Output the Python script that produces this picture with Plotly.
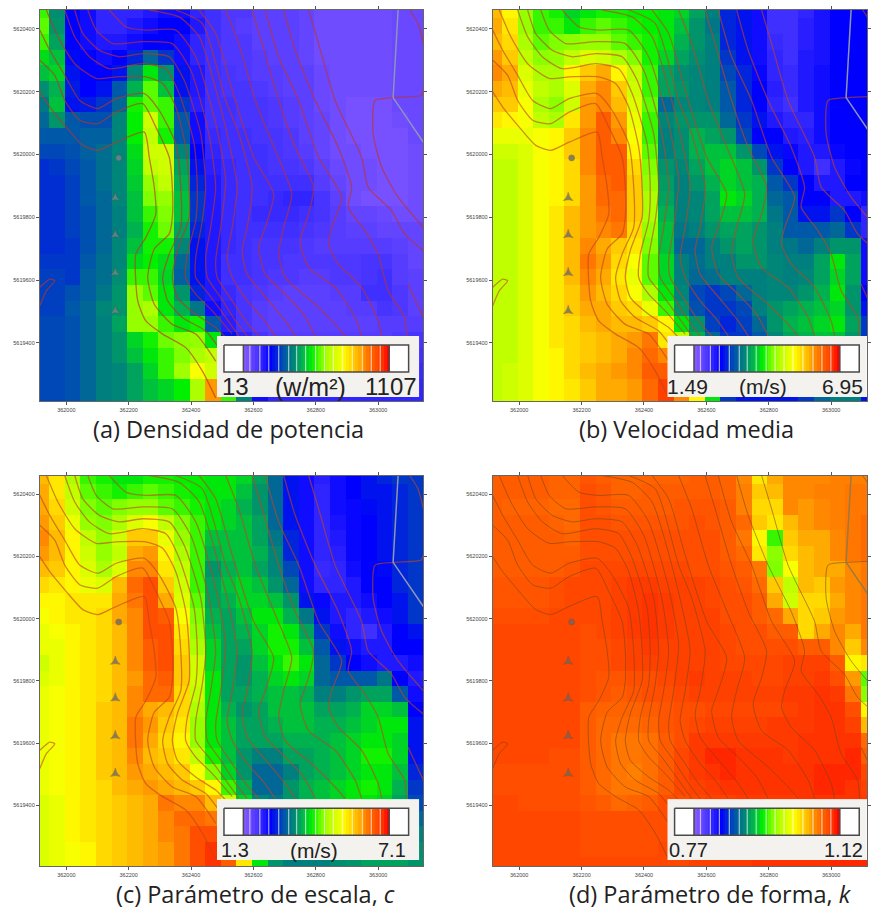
import plotly.graph_objects as go

W, H = 871, 909

# Colour-scale position (0-100 % of each legend's range) read per grid cell, top row first
power_density = [
[50,35,18,16,12,12,12,14,16,16,12,10,8,8,6,6,6,5,3,3,3,3,3,4,4],
[52,36,18,16,12,12,14,16,18,18,14,10,8,7,6,6,6,5,3,3,3,3,3,4,4],
[50,38,18,16,14,14,16,18,18,16,12,10,8,8,6,6,6,5,3,3,3,3,3,4,4],
[45,42,19,18,16,18,22,30,24,16,12,10,8,8,7,6,6,5,3,3,3,3,3,4,4],
[42,44,20,18,18,20,34,46,36,20,14,10,9,8,7,7,6,6,4,3,3,3,3,4,4],
[35,40,21,18,20,28,40,52,42,20,14,10,9,9,8,7,6,6,4,3,3,3,3,4,4],
[32,42,20,21,24,30,48,52,50,24,13,10,10,9,9,8,7,6,4,3,2,2,2,4,4],
[30,36,28,27,27,34,47,62,50,28,16,10,10,9,9,8,7,6,5,3,2,2,2,3,4],
[28,28,28,29,29,34,47,60,48,28,16,11,10,10,9,9,8,6,5,3,2,2,2,2,4],
[26,26,27,29,31,34,45,62,62,34,18,12,10,10,10,9,8,7,5,3,3,2,2,2,3],
[23,24,26,28,31,34,44,60,62,38,20,13,11,10,10,9,9,8,6,4,3,3,2,2,3],
[23,23,25,28,31,34,43,56,60,40,22,14,11,10,10,10,10,10,7,5,3,3,2,2,3],
[23,23,25,28,30,34,42,54,56,42,24,14,11,10,10,11,12,12,9,6,3,2,2,2,3],
[23,23,25,27,30,33,42,50,54,42,24,14,11,10,11,11,11,10,9,7,5,5,4,3,3],
[23,23,25,27,30,33,40,48,53,38,22,14,11,10,10,10,10,9,8,7,6,6,5,5,5],
[23,23,24,27,30,34,42,48,48,34,20,14,11,10,9,9,9,8,7,7,7,7,7,6,5],
[24,24,24,28,31,34,45,47,45,30,20,14,10,10,9,9,8,8,8,8,8,9,9,7,5],
[25,25,24,29,31,35,50,50,44,29,20,14,10,10,9,8,8,7,7,8,8,9,10,7,6],
[25,25,27,29,32,36,56,52,46,36,22,14,11,9,8,7,6,6,6,7,7,10,10,8,6],
[25,25,28,30,34,36,56,58,46,40,32,16,12,9,7,6,6,6,6,6,7,7,9,8,6],
[26,26,27,30,33,38,56,56,50,46,48,28,13,9,7,6,6,6,6,6,6,6,7,7,7],
[26,26,27,30,33,36,44,48,53,55,56,46,20,12,9,7,7,7,7,7,7,7,7,8,9],
[26,26,27,30,33,36,42,46,50,54,58,60,34,14,10,8,8,8,8,8,8,8,8,9,10],
[26,26,27,30,33,34,38,44,50,57,68,62,40,18,12,9,9,9,9,9,9,9,9,10,11],
[26,26,27,30,33,34,38,42,44,47,58,82,48,30,14,10,10,10,10,10,10,10,11,11,12],
[26,26,27,30,33,34,38,42,44,47,58,82,50,34,16,12,12,12,12,12,12,12,12,12,12],
]
mean_speed = [
[78,70,56,50,48,44,46,48,48,47,47,46,44,38,33,22,20,16,10,10,12,15,18,18,18],
[80,72,56,50,50,46,50,52,50,48,47,46,42,36,32,22,20,16,10,10,13,15,18,18,18],
[78,74,58,52,54,55,56,56,52,50,48,46,40,36,33,22,20,16,11,10,13,15,18,18,18],
[82,76,60,55,56,60,64,62,58,54,48,44,38,35,33,24,20,16,12,10,14,15,18,18,18],
[84,80,64,58,58,70,76,80,70,60,50,38,35,34,33,26,22,17,12,11,14,16,18,18,18],
[80,78,66,60,58,64,80,84,76,62,50,38,36,34,33,28,22,18,13,11,14,16,18,18,18],
[76,76,68,58,55,62,82,84,78,64,52,30,34,34,33,28,22,18,12,10,14,16,18,18,18],
[72,70,68,60,58,72,82,90,82,66,50,34,36,36,36,30,24,20,14,12,12,16,18,18,18],
[66,66,66,68,70,76,84,90,84,68,50,33,35,40,38,36,26,18,18,14,13,16,18,18,18],
[62,62,64,68,70,76,84,90,90,70,52,33,35,40,42,42,36,26,20,17,14,14,17,18,18],
[60,60,64,68,70,74,84,90,90,74,54,36,34,38,42,44,42,36,24,18,14,10,14,17,18],
[60,60,64,68,70,74,82,88,90,76,56,37,33,36,40,44,42,40,28,24,18,14,14,18,18],
[60,60,64,68,70,74,82,88,88,76,58,38,33,34,38,46,44,40,30,28,18,18,14,14,16],
[60,60,64,68,72,78,82,86,88,76,58,40,33,34,38,42,42,40,32,28,20,20,24,18,12],
[60,60,64,68,72,78,82,84,86,74,56,42,32,33,36,38,38,36,33,28,28,28,30,24,12],
[60,60,64,68,72,78,84,80,76,72,54,42,30,30,33,36,38,36,33,32,30,33,36,36,16],
[60,60,64,68,72,78,86,82,74,68,52,44,33,31,33,33,36,36,34,33,33,38,46,38,16],
[60,60,64,68,72,78,84,80,72,66,52,44,33,30,31,33,33,33,34,33,34,38,44,38,16],
[60,60,64,68,72,76,82,78,74,68,58,46,34,26,24,26,30,33,34,34,36,40,46,36,18],
[60,60,64,68,72,76,80,80,76,74,66,50,36,27,24,24,26,33,36,38,40,42,44,36,20],
[60,60,64,68,72,74,78,80,78,78,76,70,46,36,25,22,25,30,36,40,42,44,46,38,24],
[60,60,64,68,72,74,76,78,80,82,86,72,60,40,30,24,24,28,34,38,40,42,42,36,24],
[60,60,64,68,70,74,76,78,80,84,88,84,70,46,34,26,24,26,32,36,38,38,38,34,22],
[60,62,64,68,70,74,78,80,82,84,90,90,76,52,36,26,22,24,28,32,34,34,34,32,20],
[60,62,64,68,70,72,76,80,80,82,88,94,84,60,40,24,20,20,22,26,30,33,33,33,20],
[60,62,64,68,70,72,76,80,80,82,88,94,84,70,46,24,20,20,20,20,24,30,33,33,20],
]
scale_c = [
[78,72,58,50,48,46,46,48,48,47,47,46,46,44,38,30,20,16,13,16,18,20,22,24,24],
[80,72,60,52,50,48,50,52,50,48,47,46,46,42,36,30,20,16,12,16,18,20,20,22,24],
[80,74,62,54,52,54,56,56,52,50,48,46,44,40,36,30,20,16,12,16,17,19,20,22,24],
[82,76,66,56,54,58,64,68,60,54,50,46,44,42,38,30,20,16,12,15,17,18,20,22,24],
[84,78,70,60,56,62,76,76,66,56,50,42,42,42,38,32,22,16,12,14,17,18,20,22,24],
[82,78,70,62,56,60,80,82,70,58,50,40,42,42,40,34,22,16,12,13,17,18,20,22,24],
[78,76,70,64,58,64,84,84,72,60,50,36,40,42,38,34,26,16,11,12,16,18,19,22,24],
[74,72,70,66,64,78,88,92,76,62,50,38,42,44,42,36,30,16,12,12,14,18,18,22,24],
[70,70,72,72,72,80,86,92,80,64,52,38,40,44,44,42,36,20,17,14,14,16,18,20,24],
[68,70,72,72,74,80,84,92,90,68,54,40,38,42,46,46,40,32,20,14,12,14,16,20,24],
[66,68,70,72,74,78,84,92,92,72,56,42,38,40,44,48,46,38,24,16,12,10,14,18,20],
[66,66,70,72,74,78,84,90,92,74,58,44,38,38,44,48,48,42,28,20,16,14,14,18,18],
[62,66,70,72,74,78,84,90,92,76,62,44,38,36,42,46,50,46,30,24,18,16,14,14,16],
[64,66,70,72,74,78,82,88,90,76,62,46,38,36,40,44,46,44,30,28,28,28,32,18,14],
[66,68,70,72,74,78,84,88,88,74,60,46,38,38,40,42,42,40,33,33,36,38,38,28,16],
[66,68,70,72,76,78,84,80,78,74,58,46,40,36,38,42,42,42,38,38,40,44,44,42,18],
[66,68,70,72,76,78,86,82,76,72,56,46,42,38,38,40,42,42,40,40,42,44,46,46,20],
[66,68,70,72,76,78,86,80,74,70,56,46,42,38,38,38,40,40,40,42,44,46,46,44,20],
[66,68,70,72,76,78,84,78,76,72,60,48,42,36,33,33,38,38,40,42,44,48,48,44,20],
[66,68,70,72,76,78,82,80,78,76,68,54,44,36,30,30,33,38,40,42,44,46,46,42,22],
[66,68,70,72,74,78,80,82,80,78,76,70,50,40,30,30,36,40,42,44,46,48,46,40,24],
[64,66,70,72,74,76,78,80,86,84,84,78,62,44,34,32,36,40,42,44,46,46,44,38,26],
[64,66,70,72,74,76,78,80,84,88,88,86,70,50,36,33,36,38,40,42,44,44,42,38,30],
[64,66,70,72,74,76,78,80,84,86,92,92,78,56,38,33,35,36,38,40,42,42,40,38,33],
[64,66,68,70,74,76,78,80,82,86,92,96,84,64,42,33,33,34,36,38,38,38,38,38,35],
[64,66,68,70,74,76,78,80,82,86,92,96,90,72,46,36,33,33,33,35,36,38,38,38,36],
]
shape_k = [
[90,90,90,90,89,89,91,90,89,89,89,89,89,90,90,89,84,72,80,84,84,84,85,85,85],
[90,90,90,90,89,89,92,91,89,89,90,90,90,90,90,89,85,76,78,84,84,85,85,86,86],
[90,89,89,89,88,88,92,91,90,90,90,90,91,91,91,90,85,74,74,84,82,84,85,86,86],
[90,90,90,90,89,88,92,92,91,91,91,91,91,92,91,90,88,76,72,78,82,84,85,86,88],
[90,90,90,90,90,89,92,92,92,92,92,92,92,92,92,90,86,70,50,76,80,80,84,86,88],
[90,90,90,90,90,90,92,92,92,92,92,92,92,92,92,90,88,72,55,74,78,80,84,86,88],
[90,90,90,90,90,91,93,93,93,93,93,93,93,92,92,91,90,86,54,68,78,80,80,84,86],
[91,91,91,91,92,93,93,93,94,95,95,94,94,94,93,92,91,88,76,60,78,76,82,84,86],
[91,91,91,91,92,93,93,93,94,95,96,95,94,94,93,92,92,90,80,62,74,74,80,84,86],
[92,92,92,92,93,93,93,93,94,95,96,95,94,94,94,92,92,90,88,80,74,76,82,84,86],
[93,93,93,93,93,93,92,93,94,95,96,95,94,94,94,93,92,92,90,90,74,80,84,80,86],
[93,93,93,93,93,93,92,92,93,94,95,94,94,94,94,93,92,92,92,92,90,90,84,76,84],
[93,93,93,93,93,93,92,92,93,94,94,94,94,94,94,93,93,93,93,94,94,94,90,70,72],
[93,93,93,93,93,93,92,91,91,92,92,93,94,95,94,94,94,93,93,94,94,95,92,82,52],
[93,93,93,93,93,93,92,91,90,91,92,92,93,94,94,94,94,94,94,95,95,96,95,86,55],
[93,93,93,93,93,93,90,89,89,89,90,91,92,92,93,93,93,93,93,94,95,96,96,92,70],
[93,93,93,93,93,93,90,88,88,88,89,91,92,93,94,94,94,94,95,95,95,96,96,94,78],
[93,93,93,93,93,93,90,88,86,86,87,90,92,95,95,95,95,95,95,95,96,96,96,96,88],
[93,93,93,93,92,92,90,88,86,86,87,90,93,95,97,97,96,96,96,95,96,96,96,97,90],
[92,92,92,92,92,92,90,88,86,85,87,90,93,95,96,97,96,96,96,96,96,97,97,97,93],
[92,92,92,92,92,92,90,88,86,86,87,90,93,94,95,96,96,96,96,96,96,97,97,96,94],
[93,93,92,92,92,92,91,90,88,89,90,92,92,93,94,94,95,95,95,95,96,96,96,96,95],
[93,93,93,93,93,93,92,92,92,92,92,92,93,93,94,94,95,95,95,95,96,96,96,96,95],
[93,93,93,93,93,93,92,92,92,92,92,92,93,93,94,94,95,95,95,95,96,96,96,96,96],
[93,93,93,93,93,93,92,92,92,92,92,93,93,93,94,94,95,95,95,96,96,96,96,96,96],
[93,93,93,93,93,93,93,93,93,93,93,93,93,94,94,95,95,96,96,96,96,96,97,97,97],
]

cell_eastings = [361920 + 50 * k for k in range(25)]
cell_northings = [5620459 - 50 * j for j in range(26)]

# Palette position -> colour
scale_stops = [[0, "#8558ff"], [.10, "#4030ff"], [.18, "#0000ff"], [.25, "#0040c0"], [.33, "#007f7f"],
               [.41, "#00b848"], [.47, "#00f000"], [.54, "#80ff00"], [.60, "#c0ff00"], [.69, "#ffff00"],
               [.78, "#ffbb00"], [.86, "#ff7700"], [.96, "#ff3300"], [1, "#ff0000"]]

# Terrain contours: metres east of 362000 and north of 5620000
contours_east = [
[-85,-53,0,53,101,160,250,266,282,287,255,223,229,255,309,383,436,479],
[-85,-37,-5,43,101,160,245,287,330,340,340,330,282,261,282,340,415,479],
[-85,-53,-5,43,101,160,250,298,351,367,367,330,309,325,372,447,489],
[-64,-27,27,96,160,255,309,351,383,394,394,356,340,356,415,479,511],
[-5,27,74,138,245,319,362,410,420,415,388,383,415,468,532],
[27,53,106,170,245,330,378,431,447,436,415,415,457,511,553],
[69,96,149,245,340,399,457,479,463,447,452,495,543,580],
[138,192,255,351,415,479,511,495,479,484,532,575,617],
[266,362,426,489,532,548,532,516,532,580,628,670],
[351,436,511,553,596,580,564,580,649,702,734],
[426,479,532,601,665,638,617,638,702,761,798],
[511,553,606,670,723,697,681,702,798,862,894],
[596,628,681,734,793,777,750,777,862,926,947],
[638,681,745,809,883,851,841,872,947,1000,1011],
[697,734,798,872,915,904,958,1000,1032,1085,1091],
[777,809,862,947,968,1043,1085,1144],
[1101,1128,1145],
[1145,1138,1053,990,984,1011,1064,1145],
[-85,-64,-37,-53,-85],
[1096,1145],
]
contours_north = [
[199,151,87,29,13,39,71,-9,-104,-189,-264,-317,-466,-530,-572,-615,-689,-775],
[300,252,172,109,98,135,162,87,-9,-104,-200,-253,-301,-392,-477,-541,-572,-658],
[396,332,252,172,146,178,194,140,34,-104,-232,-317,-392,-466,-519,-562,-615],
[460,375,289,242,247,247,226,151,23,-104,-200,-306,-392,-455,-509,-551,-583],
[460,375,311,273,289,273,194,34,-104,-211,-317,-392,-445,-498,-572],
[460,385,332,311,321,311,236,66,-104,-211,-328,-392,-445,-519,-578],
[460,396,353,359,353,268,66,-104,-232,-328,-392,-455,-530,-578],
[460,406,396,396,311,98,-83,-232,-338,-392,-466,-530,-578],
[460,438,375,172,-9,-104,-232,-328,-392,-466,-519,-578],
[460,417,172,66,-104,-232,-306,-381,-466,-530,-578],
[460,385,204,-9,-126,-232,-296,-381,-445,-509,-578],
[460,353,172,13,-126,-232,-317,-392,-477,-541,-578],
[460,353,172,23,-104,-189,-275,-360,-423,-519,-578],
[460,311,172,-9,-136,-232,-285,-349,-423,-530,-578],
[460,332,172,23,-104,-168,-243,-317,-434,-519,-578],
[460,353,172,-9,-104,-179,-253,-306],
[460,417,353],
[204,188,181,172,66,-40,-136,-232],
[-482,-434,-402,-397,-423],
[-413,-519],
]
boundary_east = [1064, 1048, 1145]
boundary_north = [460, 181, 39]
turbine_east = [168, 157, 157, 157, 157]
turbine_north = [-11, -138, -256, -377, -498]

x_ticks = [362000, 362200, 362400, 362600, 362800, 363000]
y_ticks = [5619400, 5619600, 5619800, 5620000, 5620200, 5620400]

panels = [
    dict(z=power_density, box=(40, 425, 10, 401), xr=(361915, 363144), yr=(5619215, 5620460),
         line="rgba(190,50,40,0.65)", lw=1.3, turb="#8a8290", bnd="#8f93b8",
         lg=(218, 421, 336, 397), lo="13", unit="(w/m²)", hi="1107", fs=24, us=25,
         lox=237, ux=312, hix=393, cap="(a) Densidad de potencia", capx=230, capy=429),
    dict(z=mean_speed, box=(495, 871, 10, 401), xr=(361915, 363115), yr=(5619215, 5620460),
         line="rgba(190,70,30,0.62)", lw=1.3, turb="#55607a", bnd="#8f93b8",
         lg=(670.7, 871, 336, 397), lo="1.49", unit="(m/s)", hi="6.95", fs=21, us=21,
         lox=691, ux=767, hix=846, cap="(b) Velocidad media", capx=689.5, capy=429),
    dict(z=scale_c, box=(40, 425, 475.5, 866), xr=(361915, 363144), yr=(5619205, 5620460),
         line="rgba(190,70,30,0.62)", lw=1.3, turb="#55607a", bnd="#8f93b8",
         lg=(218, 421, 799.3, 860), lo="1.3", unit="(m/s)", hi="7.1", fs=20, us=21,
         lox=236, ux=315, hix=394, cap="(c) Parámetro de escala, <i>c</i>", capx=256.5, capy=894),
    dict(z=shape_k, box=(495, 871, 475.5, 866), xr=(361915, 363115), yr=(5619205, 5620460),
         line="rgba(110,70,30,0.55)", lw=1.0, turb="#666666", bnd="#9a7a40",
         lg=(670.7, 871, 799.3, 860), lo="0.77", unit="", hi="1.12", fs=20, us=21,
         lox=692, ux=767, hix=847, cap="(d) Parámetro de forma, <i>k</i>", capx=714, capy=894),
]

legend_levels = list(range(0, 101, 2))
legend_stripes = [33, 43, 52, 62, 72, 80, 89, 99, 108, 117, 126, 136, 146, 155, 164]

fig = go.Figure()
layout = {}
annotations = []


def flat(east_lists, north_lists):
    xs, ys = [], []
    for e, n in zip(east_lists, north_lists):
        xs += [362000 + v for v in e] + [None]
        ys += [5620000 + v for v in n] + [None]
    return xs, ys


for i, p in enumerate(panels):
    n = i + 1
    xa, ya = f"x{n}", f"y{n}"
    x0, x1, y0, y1 = p["box"]
    axis = dict(showgrid=False, zeroline=False, ticks="outside", ticklen=3, tickwidth=1,
                tickcolor="#555555", showline=True, linecolor="#666666", linewidth=1,
                mirror="ticks", tickfont=dict(family="Liberation Sans", size=5.5, color="#444444"))
    layout[f"xaxis{n}"] = dict(axis, domain=[x0 / W, x1 / W], range=list(p["xr"]), anchor=ya,
                               tickvals=x_ticks, ticktext=[str(v) for v in x_ticks])
    layout[f"yaxis{n}"] = dict(axis, domain=[1 - y1 / H, 1 - y0 / H], range=list(p["yr"]), anchor=xa,
                               tickvals=y_ticks, ticktext=[str(v) for v in y_ticks])
    fig.add_trace(go.Heatmap(z=p["z"], x=cell_eastings, y=cell_northings, xaxis=xa, yaxis=ya,
                             colorscale=scale_stops, zmin=0, zmax=100, showscale=False, zsmooth=False))
    cx, cy = flat(contours_east, contours_north)
    fig.add_trace(go.Scatter(x=cx, y=cy, xaxis=xa, yaxis=ya, mode="lines", showlegend=False,
                             line=dict(color=p["line"], width=p["lw"], shape="spline", smoothing=0.6)))
    fig.add_trace(go.Scatter(x=[362000 + v for v in boundary_east], y=[5620000 + v for v in boundary_north],
                             xaxis=xa, yaxis=ya, mode="lines", showlegend=False,
                             line=dict(color=p["bnd"], width=1.5)))
    fig.add_trace(go.Scatter(x=[362000 + v for v in turbine_east], y=[5620000 + v for v in turbine_north],
                             xaxis=xa, yaxis=ya, mode="markers", showlegend=False,
                             marker=dict(symbol=["circle"] + ["star-triangle-up"] * 4, size=[6, 7, 7, 7, 7],
                                         color=p["turb"], line=dict(color="#555555", width=0.5))))

    # Legend inset on its own axes, in pixels of the inset
    m = n + 4
    lx0, lx1, ly0, ly1 = p["lg"]
    lxa, lya = f"x{m}", f"y{m}"
    hidden = dict(visible=False, showgrid=False, zeroline=False)
    layout[f"xaxis{m}"] = dict(hidden, domain=[lx0 / W, lx1 / W], range=[0, lx1 - lx0], anchor=lya)
    layout[f"yaxis{m}"] = dict(hidden, domain=[1 - ly1 / H, 1 - ly0 / H], range=[ly1 - ly0, 0], anchor=lxa)
    fig.add_trace(go.Heatmap(z=[[0]], x=[0, lx1 - lx0], y=[0, ly1 - ly0], xaxis=lxa, yaxis=lya,
                             colorscale=[[0, "#f4f2ee"], [1, "#f4f2ee"]], showscale=False))
    fig.add_trace(go.Heatmap(z=[[0]], x=[7, 192.5], y=[9, 36], xaxis=lxa, yaxis=lya,
                             colorscale=[[0, "#ffffff"], [1, "#ffffff"]], showscale=False))
    step = (173 - 26.5) / len(legend_levels)
    fig.add_trace(go.Heatmap(z=[legend_levels], y=[9, 36],
                             x=[26.5 + step * c for c in range(len(legend_levels) + 1)],
                             xaxis=lxa, yaxis=lya, colorscale=scale_stops, zmin=0, zmax=100,
                             showscale=False, zsmooth=False))
    sx, sy = [], []
    for s in legend_stripes:
        sx += [s, s, None]
        sy += [9, 36, None]
    fig.add_trace(go.Scatter(x=sx, y=sy, xaxis=lxa, yaxis=lya, mode="lines", showlegend=False,
                             line=dict(color="rgba(255,255,255,0.62)", width=1.2)))
    fig.add_trace(go.Scatter(x=[7, 192.5, 192.5, 7, 7, None, 26.5, 26.5, None, 173, 173],
                             y=[9, 9, 36, 36, 9, None, 9, 36, None, 9, 36],
                             xaxis=lxa, yaxis=lya, mode="lines", showlegend=False,
                             line=dict(color="#4a4a4a", width=1.5)))

    ly = ly1 - 10
    for text, xp, size in ((p["lo"], p["lox"], p["fs"]), (p["unit"], p["ux"], p["us"]), (p["hi"], p["hix"], p["fs"])):
        if text:
            annotations.append(dict(text=text, x=xp / W, y=1 - ly / H, xref="paper", yref="paper",
                                    xanchor="center", yanchor="middle", showarrow=False,
                                    font=dict(family="Liberation Sans", size=size, color="#222222")))
    annotations.append(dict(text=p["cap"], x=p["capx"] / W, y=1 - p["capy"] / H, xref="paper", yref="paper",
                            xanchor="center", yanchor="middle", showarrow=False,
                            font=dict(family="Open Sans", size=23.5, color="#222222")))

fig.update_layout(width=W, height=H, margin=dict(l=0, r=0, t=0, b=0), paper_bgcolor="white",
                  plot_bgcolor="white", showlegend=False, annotations=annotations, **layout)
fig.write_html("out.html", config={"displayModeBar": False},
               post_script="document.body.style.margin='0';document.body.style.overflow='hidden';")
